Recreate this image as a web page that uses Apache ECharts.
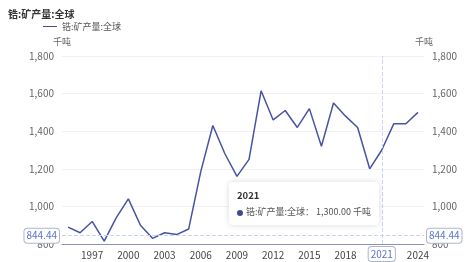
<!DOCTYPE html>
<html>
<head>
<meta charset="utf-8">
<script src="https://cdn.jsdelivr.net/npm/echarts@6/dist/echarts.min.js"></script>
<style>html,body{margin:0;padding:0;background:#fff;}#c{width:476px;height:262px;}</style>
</head>
<body>
<div id="c"></div>
<script>
const seriesName = '锆:矿产量:全球';
const unit = '千吨';
const years = ['1995','1996','1997','1998','1999','2000','2001','2002','2003','2004','2005','2006','2007','2008','2009','2010','2011','2012','2013','2014','2015','2016','2017','2018','2019','2020','2021','2022','2023','2024'];
const values = [890,860,920,815,940,1040,900,830,860,850,880,1185,1430,1280,1160,1250,1615,1460,1510,1420,1520,1320,1550,1480,1420,1200,1300,1440,1440,1500];
const yTicks = {min:800, max:1800, interval:200};
const pointerYear = '2021';
const pointerValue = 844.44;

const chart = echarts.init(document.getElementById('c'), null, {renderer:'canvas'});
const FONT = '"Noto Sans CJK SC", "Noto Sans", sans-serif';
const ptrLabel = {
  show:true, backgroundColor:'#fff', color:'#5b72c9', borderColor:'#aeb6cf', borderWidth:1,
  padding:[2,2], fontSize:10, fontFamily:FONT,
  formatter: p => (typeof p.value === 'number' ? p.value.toFixed(2) : p.value)
};
const yAxisBase = {
  type:'value', min:yTicks.min, max:yTicks.max, interval:yTicks.interval,
  name:unit, nameGap:10,
  nameTextStyle:{color:'#666', fontSize:9, fontFamily:FONT},
  axisLine:{show:false}, axisTick:{show:false},
  axisLabel:{color:'#666', fontSize:10, fontFamily:FONT, margin:8},
  splitLine:{lineStyle:{color:'#f0f1f7'}},
  axisPointer:{label:ptrLabel}
};
chart.setOption({
  animation:false,
  title:{text:seriesName, left:3, top:4, textStyle:{fontSize:10, fontWeight:'bold', color:'#333', fontFamily:FONT}},
  legend:{data:[seriesName], left:38, top:17, itemWidth:14, itemHeight:8, icon:'path://M0,4L14,4L14,5L0,5Z',
    textStyle:{fontSize:9, color:'#555', fontFamily:FONT}},
  grid:{left:62, right:52, top:56, bottom:18},
  tooltip:{
    trigger:'axis', alwaysShowContent:true,
    axisPointer:{type:'cross', lineStyle:{color:'#c9d4f2', type:'dashed'}, crossStyle:{color:'#c9d4f2', type:'dashed'}},
    position:[229,182],
    backgroundColor:'#fff', borderColor:'#fff', borderWidth:0,
    padding:[6,8],
    extraCssText:'box-shadow:0 0 6px rgba(0,0,0,0.15);border-radius:4px;',
    formatter: ps => {
      const p = ps[0];
      return '<div style="font-family:'+FONT.replace(/"/g,"'")+';font-size:9px;color:#333;line-height:14px;white-space:nowrap">'
        + '<div style="font-weight:bold;font-size:9.5px;margin-bottom:3px">'+p.name+'</div>'
        + '<span style="display:inline-block;width:6px;height:6px;border-radius:50%;background:#3f4a8f;margin-right:3px;vertical-align:middle"></span>'
        + '<span style="color:#555">'+p.seriesName+'：</span><span style="color:#555;margin-left:2px">'
        + Number(p.value).toLocaleString('en-US',{minimumFractionDigits:2, maximumFractionDigits:2})+' '+unit+'</span></div>';
    }
  },
  xAxis:{
    type:'category', data:years, boundaryGap:true,
    axisLine:{lineStyle:{color:'#8b90bd'}}, axisTick:{show:false},
    axisLabel:{color:'#444', fontSize:10, fontFamily:FONT, margin:6, interval:(i)=> (i-2)%3===0},
    axisPointer:{label:ptrLabel}
  },
  yAxis:[
    Object.assign({}, yAxisBase, {position:'left'}),
    Object.assign({}, yAxisBase, {position:'right'})
  ],
  series:[{
    name:seriesName, type:'line', data:values, symbol:'none', showSymbol:false,
    lineStyle:{color:'#424c94', width:1.5}, itemStyle:{color:'#424c94'}
  }]
});
const px = chart.convertToPixel({xAxisIndex:0}, pointerYear);
const py = chart.convertToPixel({yAxisIndex:0}, pointerValue);
chart.dispatchAction({type:'showTip', x:px, y:py});
</script>
</body>
</html>
